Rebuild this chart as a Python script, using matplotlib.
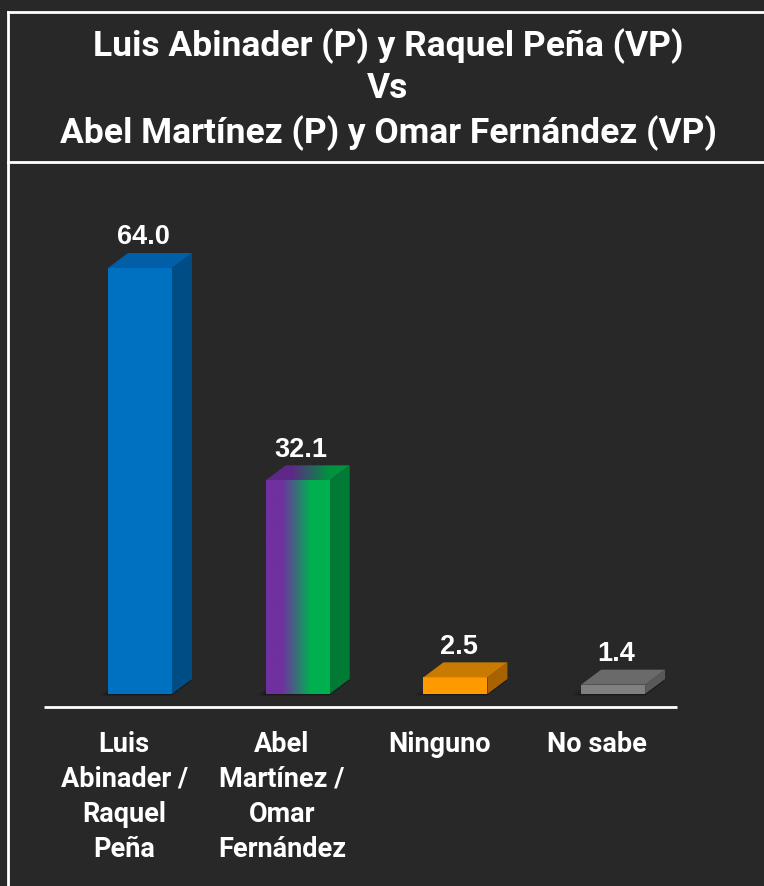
import matplotlib
matplotlib.use("Agg")
import matplotlib.pyplot as plt
import numpy as np
from matplotlib.colors import LinearSegmentedColormap
from matplotlib.lines import Line2D
from matplotlib.patches import Polygon, Rectangle

title_lines = ["Luis Abinader (P) y Raquel Peña (VP)", "Vs",
               "Abel Martínez (P) y Omar Fernández (VP)"]
categories = ["Luis\nAbinader /\nRaquel\nPeña", "Abel\nMartínez /\nOmar\nFernández",
              "Ninguno", "No sabe"]
values = [64.0, 32.1, 2.5, 1.4]
value_labels = ["64.0", "32.1", "2.5", "1.4"]

# front, top, side colours per bar (None front -> gradient)
front_cols = ["#0070C0", None, "#FF9900", "#7F7F7F"]
top_cols = ["#005FA6", None, "#C97A00", "#6A6A6A"]
side_cols = ["#004C85", "#007A35", "#A86300", "#595959"]

BG = "#282828"
W, H = 764, 886
px_x = 157.7          # pixels per category step
px_y = 426 / 64       # pixels per value unit
x0_px, y0_px = 140, H - 694  # pixel position of category 0 / value 0

fig = plt.figure(figsize=(W / 100, H / 100), dpi=100, facecolor=BG)
ax = fig.add_axes([0, 0, 1, 1])
ax.set_facecolor(BG)
ax.set_xlim(-x0_px / px_x, (W - x0_px) / px_x)
ax.set_ylim(-y0_px / px_y, (H - y0_px) / px_y)
ax.axis("off")

bw = 64 / px_x
dx = 20 / px_x
dy = 15 / px_y

grad = LinearSegmentedColormap.from_list(
    "pg", [(0, "#7030A0"), (0.25, "#7030A0"), (0.7, "#00B050"), (1, "#00B050")])
grad_top = LinearSegmentedColormap.from_list(
    "pgt", [(0, "#5E2888"), (0.3, "#5E2888"), (0.75, "#00923F"), (1, "#00923F")])

for i, v in enumerate(values):
    l, r = i - bw / 2, i + bw / 2
    # soft shadow
    for k, a in enumerate([0.10, 0.12, 0.16]):
        off = (3 - k) * 3 / px_x
        ax.add_patch(Polygon([(l - off, -0.2), (r, -0.2), (r + dx, dy - 0.2),
                              (l + dx - off, dy - 0.2)],
                             closed=True, facecolor="black", alpha=a,
                             edgecolor="none", zorder=1))
    side = Polygon([(r, 0), (r + dx, dy), (r + dx, v + dy), (r, v)], closed=True,
                   facecolor=side_cols[i], edgecolor="none", zorder=3)
    ax.add_patch(side)
    top_pts = [(l, v), (r, v), (r + dx, v + dy), (l + dx, v + dy)]
    if front_cols[i] is None:
        g = np.linspace(0, 1, 256).reshape(1, -1)
        im = ax.imshow(g, cmap=grad, aspect="auto", extent=[l, r, 0, v], zorder=3)
        im.set_clip_path(Rectangle((l, 0), bw, v, transform=ax.transData))
        top = Polygon(top_pts, closed=True, facecolor="none", edgecolor="none")
        ax.add_patch(top)
        im2 = ax.imshow(g, cmap=grad_top, aspect="auto",
                        extent=[l, r + dx, v, v + dy], zorder=3)
        im2.set_clip_path(top)
    else:
        ax.bar(i, v, width=bw, color=front_cols[i], zorder=3)
        ax.add_patch(Polygon(top_pts, closed=True, facecolor=top_cols[i],
                             edgecolor="none", zorder=3))
    ax.text(i + 0.02, v + dy + 0.4, value_labels[i], ha="center", va="bottom",
            color="white", fontsize=19.5, fontweight="bold",
            family="Liberation Sans", zorder=5)
    ax.text(i - 0.1, -(731 - 694) / px_y, categories[i], ha="center", va="top",
            color="white", fontsize=19.5, fontweight="bold", family="Roboto",
            linespacing=1.38, zorder=5)

# baseline
base_y = -(707 - 694) / px_y
ax.plot([(44 - x0_px) / px_x, (677 - x0_px) / px_x], [base_y, base_y],
        color="white", lw=2, solid_capstyle="butt", zorder=4)

# frame lines (figure pixels)
def fline(x1, y1, x2, y2):
    fig.add_artist(Line2D([x1 / W, x2 / W], [1 - y1 / H, 1 - y2 / H],
                          color="white", lw=2, transform=fig.transFigure))

fline(8, 12, W, 12)
fline(8, 162, W, 162)
fline(8, 12, 8, H)

for txt, yc in zip(title_lines, [46, 88, 133]):
    fig.text(388 / W, 1 - yc / H, txt, ha="center", va="center", color="white",
             fontsize=25.5, fontweight="bold", family="Roboto")

fig.savefig("out.png", dpi=100, facecolor=BG)
